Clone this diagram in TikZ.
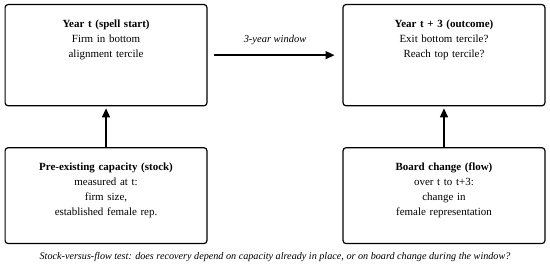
\documentclass[tikz,border=0pt]{standalone}
\usepackage{fontspec}
\setmainfont{Liberation Serif}
\usepackage{tikz}
\usetikzlibrary{arrows.meta}

\begin{document}
\begin{tikzpicture}[>={Triangle[length=9pt,width=8pt]},
    panel/.style={draw, line width=1.2pt, rounded corners=3pt, anchor=north,
      minimum width=7.12cm, text width=6.8cm, align=center, inner ysep=0.51cm,
      text height=0.3cm, font=\fontsize{11}{15}\selectfont},
    flow/.style={->, line width=1.4pt}]
  \useasboundingbox (0,0) rectangle (19.4,9.42);
  % the two years
  \node[panel, text depth=2.25cm] (start) at (3.74,9.28)
    {\textbf{Year t (spell start)}\\ Firm in bottom\\ alignment tercile};
  \node[panel, text depth=2.25cm] (outcome) at (15.66,9.28)
    {\textbf{Year t + 3 (outcome)}\\ Exit bottom tercile?\\ Reach top tercile?};
  % the two candidate drivers
  \node[panel, text depth=2.06cm] (stock) at (3.74,4.23)
    {\textbf{Pre-existing capacity (stock)}\\ measured at t:\\ firm size,\\ established female rep.};
  \node[panel, text depth=2.06cm] (board) at (15.66,4.23)
    {\textbf{Board change (flow)}\\ over t to t+3:\\ change in\\ female representation};
  % window arrow
  \draw[flow, shorten <=0.21cm, shorten >=0.28cm] (start.east) -- (outcome.west)
    node[midway, above=0.22cm, font=\fontsize{10.5}{12}\selectfont\itshape] (window) {3-year window};
  \draw[flow, shorten >=2pt] (stock.north) -- (start.south);
  \draw[flow, shorten >=2pt] (board.north) -- (outcome.south);
  % caption
  \node[font=\fontsize{10.2}{12}\selectfont\itshape] (caption) at (9.70,0.34)
    {Stock-versus-flow test: does recovery depend on capacity already in place, or on board change during the window?};
\end{tikzpicture}
\end{document}
